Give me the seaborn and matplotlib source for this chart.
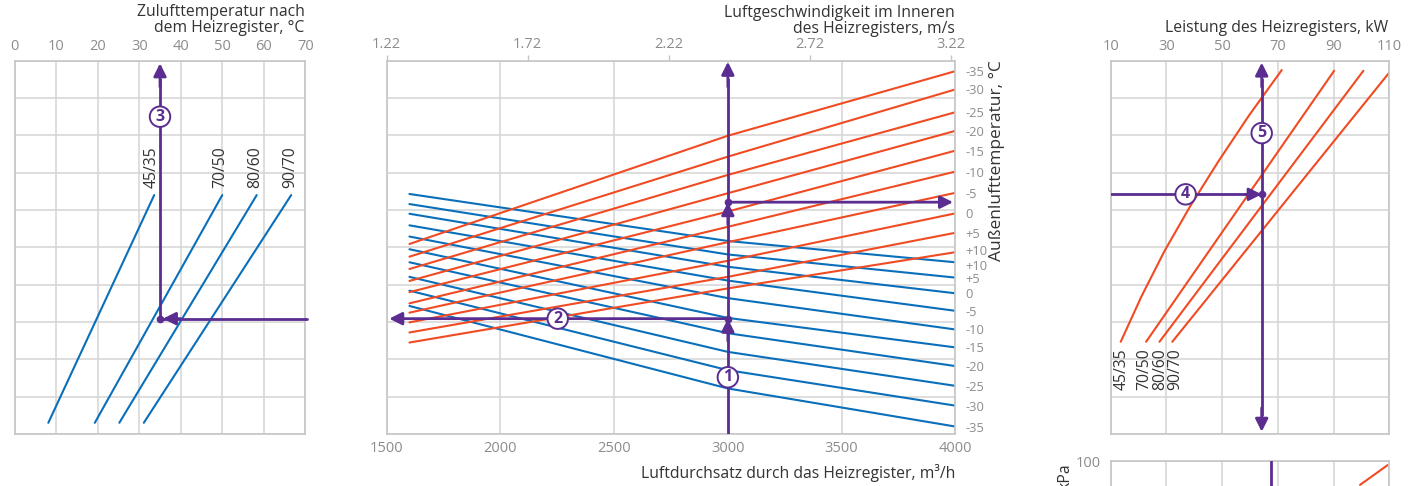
import numpy as np
import pandas as pd
import matplotlib
matplotlib.use("Agg")
import matplotlib.pyplot as plt
import matplotlib.transforms as mtransforms
import seaborn as sns

# ---------------- data (nomogram height in grid units 0..10) ----------------
grid_levels = list(range(0, 11))

# Left panel: supply air temperature after the heater, °C
water_regimes = ["45/35", "70/50", "80/60", "90/70"]
supply_t_low = [8.1, 19.3, 25.2, 31.1]
supply_t_high = [33.6, 50.0, 58.3, 66.6]
supply_h = [0.30, 6.40]
supply_label_t = [33.0, 49.5, 57.9, 66.4]
supply_ticks = [0, 10, 20, 30, 40, 50, 60, 70]

# Centre panel: air flow through the heater, m3/h
airflow_pts = [1600, 3000, 4000]
outdoor_red = [-35, -30, -25, -20, -15, -10, -5, 0, 5, 10]
red_h_1600 = [5.09, 4.75, 4.42, 4.10, 3.80, 3.50, 3.25, 2.99, 2.72, 2.45]
red_h_3000 = [7.99, 7.43, 6.94, 6.45, 5.96, 5.55, 5.14, 4.64, 4.21, 3.90]
red_h_4000 = [9.72, 9.23, 8.62, 8.12, 7.59, 7.03, 6.46, 5.91, 5.39, 4.87]
outdoor_blue = [10, 5, 0, -5, -10, -15, -20, -25, -30, -35]
blue_h_1600 = [6.43, 6.16, 5.90, 5.59, 5.29, 4.95, 4.60, 4.21, 3.84, 3.43]
blue_h_3000 = [5.17, 4.81, 4.48, 4.11, 3.64, 3.11, 2.70, 2.20, 1.71, 1.22]
blue_h_4000 = [4.60, 4.19, 3.77, 3.30, 2.80, 2.32, 1.82, 1.29, 0.76, 0.20]
airflow_ticks = [1500, 2000, 2500, 3000, 3500, 4000]
velocity_ticks = [1.22, 1.72, 2.22, 2.72, 3.22]
velocity_lim = [1.22, 3.236]

# Right panel: heater capacity, kW
cap_45_kw = [13.6, 21.0, 29.3, 38.6, 48.8, 59.7, 71.4]
cap_45_h = [2.47, 3.68, 4.90, 6.11, 7.32, 8.54, 9.75]
cap_regimes = ["70/50", "80/60", "90/70"]
cap_low_kw = [22.7, 27.5, 32.1]
cap_high_kw = [90.2, 100.7, 110.5]
cap_h = [2.47, 9.73]
cap_label_kw = [13.9, 22.0, 27.9, 33.1]
capacity_ticks = [10, 30, 50, 70, 90, 110]

# Bottom-right panel: pressure drop, kPa
dp_kw = [99.5, 109.4]
dp_kpa = [93.6, 98.9]
dp_ticks = [100]

# Worked example path
ex_airflow = 3000
ex_h_blue = 3.09
ex_h_red = 6.21
ex_supply_t = 35.0
ex_h_cap = 6.42
ex_cap = 64.2
ex_dp_cap = 67.4

# ---------------- style ----------------
W, H = 1417, 486
sns.set_theme(style="white")
plt.rcParams["font.family"] = ["Open Sans", "DejaVu Sans"]

BLUE = "#0a6fba"
RED = "#f04b23"
PURPLE = "#5b2d91"
GRID = "#d4d4d4"
SPINE = "#c6c6c6"
TICK = "#8c8c8c"
TEXT = "#333333"
LW = 1.5
TITLE_FS = 11.3
TICK_FS = 10.5

fig = plt.figure(figsize=(W / 100, H / 100), dpi=100)


def rect(x0, y0, x1, y1):
    return [x0 / W, 1 - y1 / H, (x1 - x0) / W, (y1 - y0) / H]


def ftext(px, py, s, **kw):
    fig.text(px / W, 1 - py / H, s, **kw)


def style(ax):
    for s in ax.spines.values():
        s.set_color(SPINE)
        s.set_linewidth(1.2)
    ax.grid(True, color=GRID, linewidth=1.1)
    ax.set_axisbelow(True)
    ax.tick_params(length=0, colors=TICK, labelsize=TICK_FS, pad=5)
    ax.tick_params(axis="y", labelleft=False)
    ax.set_xlabel("")
    ax.set_ylabel("")


def circ(ax, x, y, s):
    ax.text(x, y, s, ha="center", va="center", color=PURPLE, fontsize=11.5,
            fontweight="bold", zorder=6,
            bbox=dict(boxstyle="circle,pad=0.14", fc="white", ec=PURPLE, lw=1.4))


def arrow(ax, xy_from, xy_to, style_="-|>"):
    ax.annotate("", xy=xy_to, xytext=xy_from,
                arrowprops=dict(arrowstyle=style_, color=PURPLE, lw=2.0,
                                mutation_scale=19, shrinkA=0, shrinkB=0),
                zorder=5)


def dot(ax, x, y):
    ax.plot([x], [y], "o", color=PURPLE, ms=4.5, zorder=6)


# ---------------- left panel ----------------
axL = fig.add_axes(rect(14.7, 60.7, 305.3, 434))
rows = []
for r, lo, hi in zip(water_regimes, supply_t_low, supply_t_high):
    rows += [(r, lo, supply_h[0]), (r, hi, supply_h[1])]
dfL = pd.DataFrame(rows, columns=["regime", "t", "h"])
sns.lineplot(data=dfL, x="t", y="h", units="regime", estimator=None, sort=False,
             color=BLUE, lw=LW, ax=axL, legend=False)
axL.set_xlim(0, 70)
axL.set_ylim(0, 10)
axL.set_xticks(supply_ticks)
axL.set_yticks(grid_levels)
axL.xaxis.tick_top()
style(axL)
for r, t in zip(water_regimes, supply_label_t):
    axL.text(t, 6.58, r, rotation=90, ha="center", va="bottom", color=TEXT, fontsize=TITLE_FS)
axL.plot([ex_supply_t, ex_supply_t], [ex_h_blue, 9.5], color=PURPLE, lw=2.0, zorder=5)
arrow(axL, (ex_supply_t, 9.3), (ex_supply_t, 9.93))
axL.plot([ex_supply_t, 70.4], [ex_h_blue, ex_h_blue], color=PURPLE, lw=2.0, zorder=5, clip_on=False)
arrow(axL, (40, ex_h_blue), (35.7, ex_h_blue))
dot(axL, ex_supply_t, ex_h_blue)
circ(axL, ex_supply_t, 8.50, "3")
ftext(304.7, 20.5, "Zulufttemperatur nach\ndem Heizregister, °C", ha="right", va="center",
      color=TEXT, fontsize=TITLE_FS, linespacing=1.0, multialignment="right")

# ---------------- centre panel ----------------
axC = fig.add_axes(rect(386.7, 60.7, 955.3, 434))
rows = []
for t, a, b, c in zip(outdoor_red, red_h_1600, red_h_3000, red_h_4000):
    for q, h in zip(airflow_pts, [a, b, c]):
        rows.append((f"r{t}", q, h))
dfR = pd.DataFrame(rows, columns=["line", "q", "h"])
rows = []
for t, a, b, c in zip(outdoor_blue, blue_h_1600, blue_h_3000, blue_h_4000):
    for q, h in zip(airflow_pts, [a, b, c]):
        rows.append((f"b{t}", q, h))
dfB = pd.DataFrame(rows, columns=["line", "q", "h"])
sns.lineplot(data=dfB, x="q", y="h", units="line", estimator=None, sort=False,
             color=BLUE, lw=LW, ax=axC, legend=False)
sns.lineplot(data=dfR, x="q", y="h", units="line", estimator=None, sort=False,
             color=RED, lw=LW, ax=axC, legend=False)
axC.set_xlim(1500, 4000)
axC.set_ylim(0, 10)
axC.set_xticks(airflow_ticks)
axC.set_yticks(grid_levels)
style(axC)

axT = axC.twiny()
axT.set_xlim(*velocity_lim)
axT.set_xticks(velocity_ticks)
axT.set_xticklabels([f"{v:.2f}" for v in velocity_ticks])
for s in axT.spines.values():
    s.set_visible(False)
axT.tick_params(axis="x", length=4, width=1, colors=TICK, labelsize=TICK_FS, pad=2)
axT.tick_params(axis="x", color=SPINE)

axRt = axC.twinx()
axRt.set_ylim(0, 10)
tick_pos = red_h_4000 + blue_h_4000
tick_lab = [(f"+{t}" if t > 0 else str(t)) for t in outdoor_red + outdoor_blue]
axRt.set_yticks(tick_pos)
axRt.set_yticklabels(tick_lab)
for s in axRt.spines.values():
    s.set_visible(False)
axRt.tick_params(axis="y", length=0, colors=TICK, labelsize=9.3, pad=7)
axRt.grid(False)
# the two "+10" labels sit very close: nudge them apart a little
labels_r = axRt.get_yticklabels()
n_red = len(outdoor_red)
for lab, dy in ((labels_r[n_red - 1], 1.6), (labels_r[n_red], -1.6)):
    lab.set_transform(lab.get_transform() +
                      mtransforms.ScaledTranslation(0, dy / 72, fig.dpi_scale_trans))

axC.plot([ex_airflow, ex_airflow], [0, 9.5], color=PURPLE, lw=2.0, zorder=5)
arrow(axC, (ex_airflow, 9.3), (ex_airflow, 9.97))
arrow(axC, (ex_airflow, ex_h_blue - 0.6), (ex_airflow, ex_h_blue))
arrow(axC, (ex_airflow, ex_h_red - 0.6), (ex_airflow, ex_h_red))
arrow(axC, (ex_airflow, ex_h_blue), (1511, ex_h_blue))
arrow(axC, (ex_airflow, ex_h_red), (3990, ex_h_red))
dot(axC, ex_airflow, ex_h_blue)
dot(axC, ex_airflow, ex_h_red)
circ(axC, ex_airflow, 1.52, "1")
circ(axC, 2252, ex_h_blue, "2")
ftext(955, 21, "Luftgeschwindigkeit im Inneren\ndes Heizregisters, m/s", ha="right", va="center",
      color=TEXT, fontsize=TITLE_FS, linespacing=1.0, multialignment="right")
ftext(955, 473, "Luftdurchsatz durch das Heizregister, m³/h", ha="right", va="center",
      color=TEXT, fontsize=TITLE_FS)
ftext(997, 60, "Außenlufttemperatur, °C", ha="center", va="top", rotation=90,
      color=TEXT, fontsize=12.5)

# ---------------- right panel ----------------
axP = fig.add_axes(rect(1110.7, 60.7, 1389.3, 434))
rows = [("45/35", k, h) for k, h in zip(cap_45_kw, cap_45_h)]
for r, lo, hi in zip(cap_regimes, cap_low_kw, cap_high_kw):
    rows += [(r, lo, cap_h[0]), (r, hi, cap_h[1])]
dfP = pd.DataFrame(rows, columns=["regime", "kw", "h"])
sns.lineplot(data=dfP, x="kw", y="h", units="regime", estimator=None, sort=False,
             color=RED, lw=LW, ax=axP, legend=False)
axP.set_xlim(10, 110)
axP.set_ylim(0, 10)
axP.set_xticks(capacity_ticks)
axP.set_yticks(grid_levels)
axP.xaxis.tick_top()
style(axP)
for r, k in zip(water_regimes, cap_label_kw):
    axP.text(k, 2.30, r, rotation=90, ha="center", va="top", color=TEXT, fontsize=TITLE_FS)
axP.plot([10, ex_cap - 2], [ex_h_cap, ex_h_cap], color=PURPLE, lw=2.0, zorder=5)
arrow(axP, (ex_cap - 6, ex_h_cap), (ex_cap, ex_h_cap))
axP.plot([ex_cap, ex_cap], [0.5, 9.5], color=PURPLE, lw=2.0, zorder=5)
arrow(axP, (ex_cap, 9.3), (ex_cap, 9.95))
arrow(axP, (ex_cap, 0.7), (ex_cap, 0.06))
dot(axP, ex_cap, ex_h_cap)
circ(axP, 36.9, ex_h_cap, "4")
circ(axP, ex_cap, 8.06, "5")
ftext(1388.3, 28.3, "Leistung des Heizregisters, kW", ha="right", va="center",
      color=TEXT, fontsize=TITLE_FS)

# ---------------- bottom-right panel (pressure drop, mostly off-canvas) ----------------
axD = fig.add_axes(rect(1110.7, 461, 1389.3, 834))
sns.lineplot(x=dp_kw, y=dp_kpa, color=RED, lw=LW, ax=axD, sort=False)
axD.set_xlim(10, 110)
axD.set_ylim(0, 100)
axD.set_xticks(capacity_ticks)
axD.set_yticks(dp_ticks)
style(axD)
axD.tick_params(axis="x", labelbottom=False)
axD.tick_params(axis="y", labelleft=True, length=5, color=SPINE, pad=2)
axD.plot([ex_dp_cap, ex_dp_cap], [0, 100], color=PURPLE, lw=2.0, zorder=5)
ftext(1065, 462, "kPa", ha="center", va="top", rotation=90, color=TEXT, fontsize=TITLE_FS)

fig.savefig("out.png", dpi=100)
